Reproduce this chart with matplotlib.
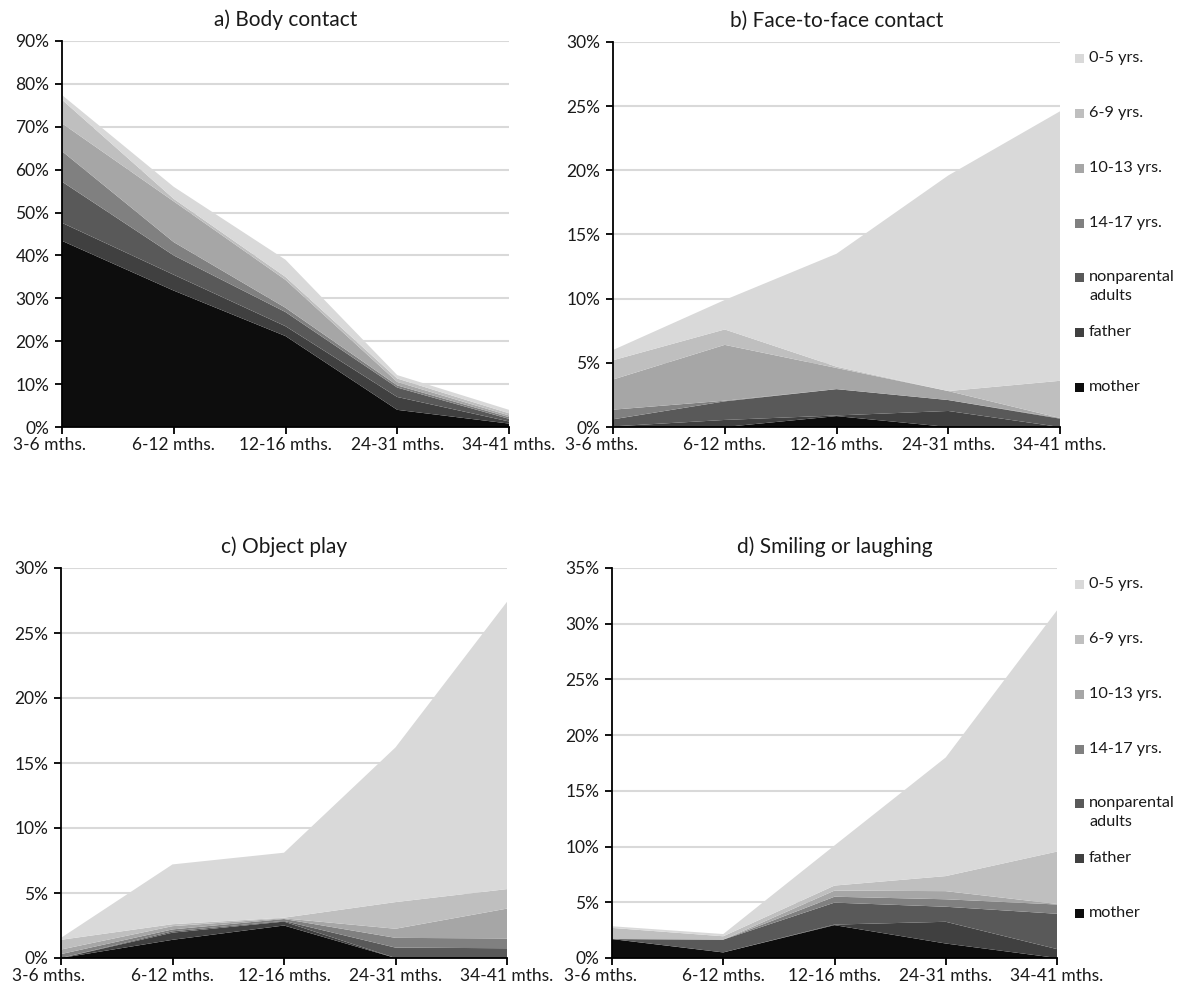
import matplotlib
matplotlib.use('Agg')
import matplotlib.pyplot as plt
from matplotlib.patches import Rectangle
import matplotlib.transforms as mtransforms
from matplotlib.ticker import FuncFormatter, MultipleLocator

plt.rcParams['font.family'] = ['Lato', 'DejaVu Sans']

categories = ['3-6 mths.', '6-12 mths.', '12-16 mths.', '24-31 mths.', '34-41 mths.']
series_names = ['mother', 'father', 'nonparental\nadults', '14-17 yrs.', '10-13 yrs.', '6-9 yrs.', '0-5 yrs.']
series_colors = ['#0d0d0d', '#404040', '#595959', '#808080', '#a6a6a6', '#bfbfbf', '#d9d9d9']

# a) Body contact (percent)
a_mother = [43.4, 31.8, 21.2, 4.0, 0.8]
a_father = [4.2, 3.7, 2.3, 3.0, 0.5]
a_nonparental = [9.6, 4.5, 3.3, 2.2, 0.6]
a_14_17 = [7.1, 3.1, 1.0, 0.5, 0.4]
a_10_13 = [6.5, 9.5, 6.5, 0.8, 0.4]
a_6_9 = [5.5, 0.6, 0.7, 0.8, 0.5]
a_0_5 = [1.1, 2.8, 4.0, 0.8, 0.8]

# b) Face-to-face contact
b_mother = [0.0, 0.0, 0.85, 0.0, 0.0]
b_father = [0.05, 0.55, 0.05, 1.25, 0.0]
b_nonparental = [0.55, 1.45, 2.05, 0.85, 0.65]
b_14_17 = [0.75, 0.05, 0.0, 0.0, 0.05]
b_10_13 = [2.35, 4.35, 1.65, 0.7, 0.0]
b_6_9 = [1.5, 1.2, 0.1, 0.0, 2.9]
b_0_5 = [0.8, 2.3, 8.8, 16.8, 21.0]

# c) Object play
c_mother = [0.0, 1.4, 2.5, 0.0, 0.0]
c_father = [0.0, 0.55, 0.3, 0.0, 0.0]
c_nonparental = [0.0, 0.1, 0.05, 0.8, 0.75]
c_14_17 = [0.3, 0.15, 0.15, 0.75, 0.75]
c_10_13 = [0.35, 0.25, 0.05, 0.7, 2.3]
c_6_9 = [0.75, 0.15, 0.05, 2.05, 1.5]
c_0_5 = [0.15, 4.6, 5.0, 11.9, 22.1]

# d) Smiling or laughing
d_mother = [1.7, 0.5, 2.95, 1.3, 0.0]
d_father = [0.0, 0.0, 0.05, 1.95, 0.8]
d_nonparental = [0.0, 1.15, 1.97, 1.35, 3.17]
d_14_17 = [0.0, 0.0, 0.53, 0.67, 0.83]
d_10_13 = [0.0, 0.0, 0.55, 0.73, 0.05]
d_6_9 = [1.0, 0.3, 0.45, 1.35, 4.7]
d_0_5 = [0.15, 0.2, 3.6, 10.65, 21.65]

panels = [
    ('a) Body contact', [a_mother, a_father, a_nonparental, a_14_17, a_10_13, a_6_9, a_0_5], 90, 10,
     (62, 41, 509, 427), False),
    ('b) Face-to-face contact', [b_mother, b_father, b_nonparental, b_14_17, b_10_13, b_6_9, b_0_5], 30, 5,
     (613, 42, 1060, 427), True),
    ('c) Object play', [c_mother, c_father, c_nonparental, c_14_17, c_10_13, c_6_9, c_0_5], 30, 5,
     (61, 568, 507, 958), False),
    ('d) Smiling or laughing', [d_mother, d_father, d_nonparental, d_14_17, d_10_13, d_6_9, d_0_5], 35, 5,
     (612, 568, 1057, 958), True),
]

W, H = 1185, 992
fig = plt.figure(figsize=(W / 100, H / 100), dpi=100)
txt_color = '#1a1a1a'

for title, data, ymax, ystep, (l, t, r, b), show_legend in panels:
    ax = fig.add_axes([l / W, 1 - b / H, (r - l) / W, (b - t) / H])
    x = list(range(len(categories)))
    ax.stackplot(x, *data, colors=series_colors, linewidth=0, zorder=2)
    ax.set_xlim(0, len(categories) - 1)
    ax.set_ylim(0, ymax)
    ax.yaxis.set_major_locator(MultipleLocator(ystep))
    ax.yaxis.set_major_formatter(FuncFormatter(lambda v, p: f'{int(round(v))}%'))
    ax.grid(axis='y', color='#d9d9d9', linewidth=1.5, zorder=0)
    ax.set_axisbelow(True)
    for s in ['top', 'right']:
        ax.spines[s].set_visible(False)
    for s in ['left', 'bottom']:
        ax.spines[s].set_color('#000000')
        ax.spines[s].set_linewidth(1.3)
        ax.spines[s].set_zorder(3)
    ax.set_xticks(x)
    ax.set_xticklabels(categories)
    ax.tick_params(axis='both', direction='out', length=5, width=1.3, color='#000000',
                   labelsize=12.5, labelcolor=txt_color)
    ax.tick_params(axis='y', pad=4)
    ax.tick_params(axis='x', pad=2)
    # first category label is pushed inside the figure edge
    lab0 = ax.get_xticklabels()[0]
    lab0.set_transform(lab0.get_transform() + mtransforms.ScaledTranslation(-12 / 100, 0, fig.dpi_scale_trans))
    ax.set_title(title, fontsize=15, color=txt_color, pad=11)

    if show_legend:
        ys = [t + 16, t + 71, t + 126, t + 181, t + 235, t + 290, t + 345]
        names_top = list(reversed(series_names))
        cols_top = list(reversed(series_colors))
        for name, col, yy in zip(names_top, cols_top, ys):
            fig.patches.append(Rectangle((1075 / W, 1 - (yy + 5) / H), 9 / W, 9 / H,
                                         transform=fig.transFigure, facecolor=col, edgecolor='none'))
            if '\n' not in name:
                fig.text(1089 / W, 1 - yy / H, name, fontsize=11.7, color=txt_color,
                         va='center', ha='left')
            else:
                fig.text(1089 / W, 1 - (yy - 7) / H, name, fontsize=11.7, color=txt_color,
                         va='top', ha='left', linespacing=1.5)

fig.savefig('out.png', dpi=100)
